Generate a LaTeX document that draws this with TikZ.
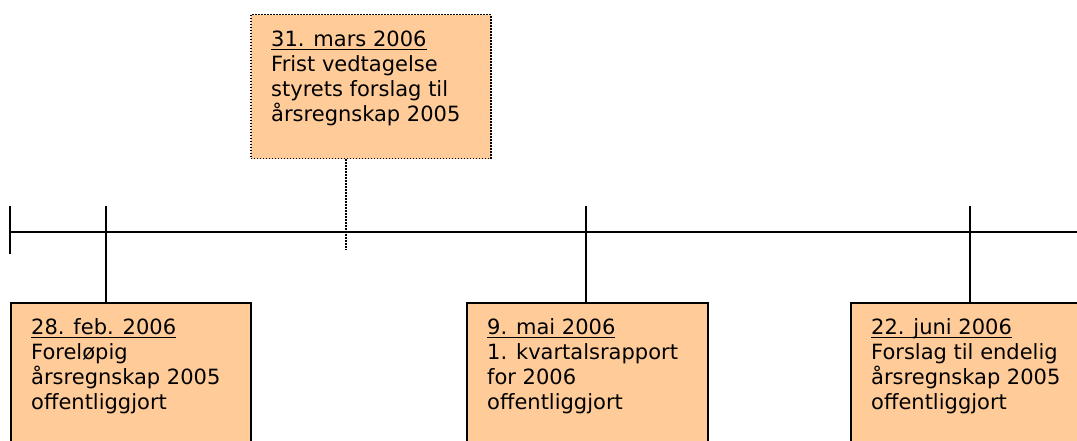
\documentclass[tikz,border=0pt]{standalone}
\usepackage{fontspec}
\setmainfont{DejaVu Sans}
\definecolor{boxfill}{HTML}{FFCC99}
\newcommand\ulx[1]{\setbox0\hbox{#1}\rlap{\rule[-3pt]{\wd0}{1.4pt}}\box0}
\begin{document}
\begin{tikzpicture}[x=1pt,y=1pt,
  box/.style={draw=black, line width=1.8pt, fill=boxfill, rectangle, inner sep=0pt, anchor=north west},
  dbox/.style={draw=black, line width=1.5pt, dash pattern=on 1.5pt off 1.5pt, fill=boxfill, rectangle, inner sep=0pt, anchor=north west},
  txt/.style={anchor=base west, align=left, inner sep=0pt, font=\fontsize{21}{25}\selectfont},
  axis/.style={line width=1.8pt},
  dline/.style={line width=1.5pt, dash pattern=on 1.5pt off 1.5pt}]
\useasboundingbox (0,0) rectangle (1077,441);
% boxes
\node[dbox, minimum width=240, minimum height=144] (top) at (250,427) {};
\node[box, minimum width=240, minimum height=146] (b1) at (10,139) {};
\node[box, minimum width=241, minimum height=146] (b2) at (466,139) {};
\node[box, minimum width=240, minimum height=146] (b3) at (850,139) {};
% timeline
\coordinate (L) at (10,209);
\coordinate (R) at (1077,209);
\coordinate (lt) at (10,235);
\coordinate (lb) at (10,187);
\coordinate (t1) at (106,235);
\coordinate (t2) at (586,235);
\coordinate (t3) at (970,235);
\coordinate (d) at (346,191);
\draw[axis] (L) -- (R);
\draw[axis] (lt) -- (lb);
\draw[axis] (t1) -- (t1 |- b1.north);
\draw[axis] (t2) -- (t2 |- b2.north);
\draw[axis] (t3) -- (t3 |- b3.north);
\draw[dline] (d |- top.south) -- (d);
% texts (base anchor = last line's baseline)
\node[txt] (x0) at (271,319) {\ulx{31. mars 2006}\\Frist vedtagelse\\styrets forslag til\\årsregnskap 2005};
\node[txt] (x1) at (31,31) {\ulx{28. feb. 2006}\\Foreløpig\\årsregnskap 2005\\offentliggjort};
\node[txt] (x2) at (487,31) {\ulx{9. mai 2006}\\1. kvartalsrapport\\for 2006\\offentliggjort};
\node[txt] (x3) at (871,31) {\ulx{22. juni 2006}\\Forslag til endelig\\årsregnskap 2005\\offentliggjort};
\end{tikzpicture}
\end{document}
